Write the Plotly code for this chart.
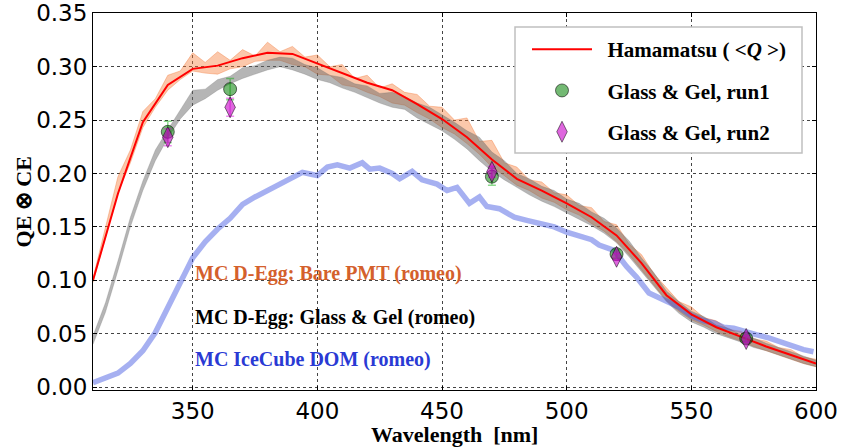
import plotly.graph_objects as go

# ---------------- data ----------------
wl_band = [310, 315, 320, 325, 330, 335, 340, 345, 350, 355, 360, 365, 370, 375, 380,
           385, 390, 395, 400, 405, 410, 415, 420, 425, 430, 435, 440, 445, 450, 455,
           460, 465, 470, 475, 480, 485, 490, 495, 500, 505, 510, 515, 520, 525, 530,
           535, 540, 545, 550, 555, 560, 565, 570, 575, 580, 585, 590, 595, 600]

bare_hi = [.102, .150, .197, .222, .258, .270, .292, .296, .313, .304, .314, .306, .316, .310, .323,
           .314, .319, .309, .311, .300, .302, .289, .292, .280, .284,
           .276, .274, .263, .262, .250, .252, .230, .231, .210, .206, .194, .192, .182, .180, .170,
           .168, .155, .152, .134, .124, .106, .093, .080, .075, .065, .062, .054, .052, .045, .043,
           .037, .035, .028, .026]
bare_lo = [.098, .140, .182, .210, .243, .262, .278, .288, .296, .294, .293, .298, .300, .305, .306,
           .306, .302, .300, .293, .292, .283, .281, .276, .272, .266,
           .264, .257, .251, .243, .237, .228, .218, .206, .198, .189, .184, .177, .173, .166, .161,
           .153, .146, .136, .124, .110, .096, .081, .071, .063, .058, .052, .047, .043, .038, .034,
           .030, .026, .022, .019]

gel_hi = [.048, .079, .118, .159, .193, .222, .241, .259, .278, .279, .288, .291, .299, .301, .306,
          .309, .308, .302, .299, .292, .290, .284, .282, .275, .276,
          .272, .266, .262, .255, .248, .240, .234, .220, .212, .200, .195, .188, .184, .176, .172,
          .164, .158, .149, .137, .121, .107, .090, .080, .071, .066, .058, .055, .049, .046, .041,
          .037, .033, .029, .025]
gel_lo = [.040, .070, .109, .150, .184, .212, .233, .251, .264, .270, .278, .284, .289, .293, .297,
          .300, .297, .293, .288, .285, .280, .276, .271, .266, .262,
          .260, .252, .246, .240, .232, .223, .212, .202, .194, .187, .180, .174, .169, .163, .157,
          .151, .144, .135, .122, .108, .093, .080, .069, .061, .056, .050, .046, .042, .037, .034,
          .030, .026, .022, .019]

wl_ham = [310, 320, 330, 340, 350, 360, 370, 380, 390, 400, 410, 420, 430, 440, 450,
          460, 470, 480, 490, 500, 510, 520, 530, 540, 550, 560, 570, 580, 590, 600]
ham = [.100, .181, .248, .283, .298, .301, .308, .313, .312, .303, .294, .285, .278, .265, .251,
       .234, .213, .195, .184, .172, .159, .142, .116, .086, .068, .056, .047, .038, .030, .022]

wl_dom = [310, 315, 320, 325, 330, 335, 340, 345, 350, 355, 360, 365, 370, 375, 380, 385, 390,
          394, 398, 400, 404, 408, 413, 418, 421, 425, 430, 433, 438, 442, 448, 452, 456, 461,
          465, 468, 473, 479, 484, 489, 495, 500, 505, 510, 513, 519, 524, 528, 533, 540, 545,
          550, 555, 559, 563, 567, 571, 576, 581, 587, 591, 595, 599]
dom = [.004, .008, .013, .022, .034, .051, .074, .099, .121, .136, .148, .158, .171, .178, .184,
       .191, .196, .201, .199, .198, .206, .208, .205, .210, .204, .205, .200, .195, .202, .194,
       .190, .184, .187, .172, .178, .169, .167, .159, .156, .153, .150, .145, .142, .138, .133,
       .128, .113, .103, .088, .080, .075, .067, .062, .060, .056, .055, .052, .049, .046, .041,
       .038, .035, .033]

wl_meas = [340, 365, 470, 520, 572]
run1 = [0.239, 0.279, 0.197, 0.1245, 0.0455]
run1_err = [0.010, 0.010, 0.008, 0.004, 0.003]
run2 = [0.234, 0.262, 0.2015, 0.122, 0.045]
run2_err = [0.008, 0.0085, 0.005, 0.003, 0.003]

x_ticks = [350, 400, 450, 500, 550, 600]
y_ticks = [0.00, 0.05, 0.10, 0.15, 0.20, 0.25, 0.30, 0.35]
y_labels = ["0.00", "0.05", "0.10", "0.15", "0.20", "0.25", "0.30", "0.35"]

SERIF = "Liberation Serif"
PAD = "&nbsp;&nbsp;"

fig = go.Figure()

# Bare PMT band (orange)
fig.add_trace(go.Scatter(x=wl_band, y=bare_lo, mode="lines",
                         line=dict(color="rgba(240,110,40,0.5)", width=0.7),
                         showlegend=False, hoverinfo="skip"))
fig.add_trace(go.Scatter(x=wl_band, y=bare_hi, mode="lines", fill="tonexty",
                         fillcolor="rgba(245,125,55,0.42)",
                         line=dict(color="rgba(240,110,40,0.5)", width=0.7),
                         showlegend=False, hoverinfo="skip"))
# Glass & Gel band (gray)
fig.add_trace(go.Scatter(x=wl_band, y=gel_lo, mode="lines",
                         line=dict(color="rgba(100,100,100,0.4)", width=0.6),
                         showlegend=False, hoverinfo="skip"))
fig.add_trace(go.Scatter(x=wl_band, y=gel_hi, mode="lines", fill="tonexty",
                         fillcolor="rgba(100,100,100,0.48)",
                         line=dict(color="rgba(100,100,100,0.4)", width=0.6),
                         showlegend=False, hoverinfo="skip"))
# IceCube DOM
fig.add_trace(go.Scatter(x=wl_dom, y=dom, mode="lines",
                         line=dict(color="rgba(70,90,225,0.48)", width=5.5),
                         showlegend=False, hoverinfo="skip"))
# Hamamatsu
fig.add_trace(go.Scatter(x=wl_ham, y=ham, mode="lines",
                         name=PAD + "Hamamatsu ( &lt;<i>Q</i> &gt;)",
                         line=dict(color="#ff0000", width=2), legendgroup="a"))
# measurements
fig.add_trace(go.Scatter(x=wl_meas, y=run1, mode="markers", name=PAD + "Glass &amp; Gel, run1",
                         marker=dict(symbol="circle", size=13, color="rgba(0,128,0,0.55)",
                                     line=dict(color="rgba(0,0,0,0.55)", width=1)),
                         error_y=dict(type="data", array=run1_err, color="rgba(0,170,0,0.45)",
                                      thickness=1.5, width=4),
                         legendgroup="b"))
fig.add_trace(go.Scatter(x=wl_meas, y=run2, mode="markers", name=PAD + "Glass &amp; Gel, run2",
                         marker=dict(symbol="diamond-tall", size=15, color="rgba(200,0,200,0.6)",
                                     line=dict(color="rgba(0,0,0,0.5)", width=1)),
                         error_y=dict(type="data", array=run2_err, color="rgba(220,0,220,0.45)",
                                      thickness=1.5, width=4),
                         legendgroup="c"))

# text labels
fig.add_annotation(x=350, y=0.1067, xref="x", yref="y", xanchor="left", yanchor="middle",
                   text="<b>MC D-Egg: Bare PMT (romeo)</b>", showarrow=False,
                   font=dict(family=SERIF, size=20, color="#d4602c"))
fig.add_annotation(x=350, y=0.0655, xref="x", yref="y", xanchor="left", yanchor="middle",
                   text="<b>MC D-Egg: Glass &amp; Gel (romeo)</b>", showarrow=False,
                   font=dict(family=SERIF, size=20, color="#000000"))
fig.add_annotation(x=350, y=0.0262, xref="x", yref="y", xanchor="left", yanchor="middle",
                   text="<b>MC IceCube DOM (romeo)</b>", showarrow=False,
                   font=dict(family=SERIF, size=20, color="#2a3ad4"))

# axis titles
fig.add_annotation(x=0.5, y=-0.117, xref="paper", yref="paper", xanchor="center", yanchor="middle",
                   text="<b>Wavelength  [nm]</b>", showarrow=False,
                   font=dict(family=SERIF, size=22, color="#000000"))
fig.add_annotation(x=-0.0955, y=0.5, xref="paper", yref="paper", xanchor="center", yanchor="middle",
                   text="<b>QE ⊗ CE</b>", showarrow=False, textangle=-90,
                   font=dict(family=SERIF, size=22, color="#000000"))

# legend frame
fig.add_shape(type="rect", xref="paper", yref="paper",
              x0=(515 - 93) / 723, x1=(802 - 93) / 723,
              y0=(390 - 153) / 377, y1=(390 - 27) / 377,
              line=dict(color="#c0c0c0", width=1.5), fillcolor="white", layer="above")

axis_common = dict(showgrid=True, gridcolor="#444444", griddash="dot", gridwidth=1,
                   showline=True, linecolor="#000000", linewidth=1, mirror="allticks",
                   ticks="inside", ticklen=4, tickcolor="#000000", zeroline=False,
                   automargin=False, ticklabeloverflow="allow",
                   tickfont=dict(family="DejaVu Sans", size=23, color="#000000"))

fig.update_layout(
    width=842, height=447,
    margin=dict(l=93, r=26, t=13, b=57, autoexpand=False),
    paper_bgcolor="white", plot_bgcolor="white",
    xaxis=dict(range=[310, 600], tickvals=x_ticks, ticktext=[str(v) for v in x_ticks], **axis_common),
    yaxis=dict(range=[-0.0028, 0.3503], tickvals=y_ticks, ticktext=y_labels, **axis_common),
    legend=dict(x=(527 - 93) / 723, y=(390 - 29) / 377, xanchor="left", yanchor="top",
                bgcolor="rgba(0,0,0,0)", borderwidth=0, itemwidth=60,
                tracegroupgap=11,
                font=dict(family=SERIF, size=21, color="#000000", weight="bold")),
    showlegend=True,
)

# remove the default page margin so the figure sits at the window's top-left corner
fig.write_html("out.html", config={"displayModeBar": False},
               post_script="document.body.style.margin='0px';")
